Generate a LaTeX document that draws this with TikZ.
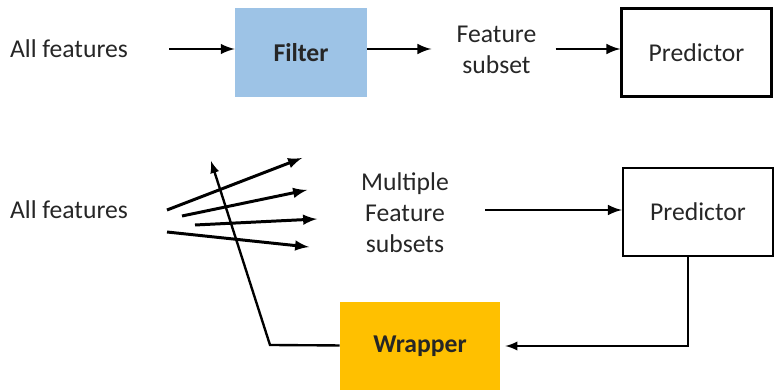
\documentclass[tikz,border=0pt]{standalone}
\usepackage{fontspec}
\setmainfont{Carlito}
\usetikzlibrary{arrows}
\pgfdeclarelayer{edgelayer}
\pgfdeclarelayer{nodelayer}
\pgfsetlayers{edgelayer,nodelayer,main}
\definecolor{filterblue}{RGB}{157,195,230}
\definecolor{wrappergold}{RGB}{255,192,0}
\newcommand{\boxfont}{\fontsize{14.6}{17.6}\selectfont}
\tikzstyle{none} = []
\tikzstyle{label text} = [inner sep=0pt, align=center, font=\boxfont, text=black!85]
\tikzstyle{filter box} = [fill=filterblue, minimum width=2.64cm, minimum height=1.78cm, font=\boxfont\bfseries, text=black!85]
\tikzstyle{wrapper box} = [fill=wrappergold, minimum width=3.2cm, minimum height=1.76cm, font=\boxfont\bfseries, text=black!85]
\tikzstyle{predictor box} = [draw, line width=1.3pt, minimum width=3.0cm, minimum height=1.76cm, font=\boxfont, text=black!85]
\tikzstyle{new edge style 1} = [-latex, line width=1.7pt]
\tikzstyle{feedback edge} = [line width=1.35pt]

\begin{document}
\begin{tikzpicture}
	\useasboundingbox (0, 0) rectangle (15.5, -7.8);
	\begin{pgfonlayer}{nodelayer}
		% filter row
		\node [style=label text] (0) at (1.38, -0.98) {All features};
		\node [style=filter box] (1) at (6.02, -1.05) {Filter};
		\node [style=label text] (2) at (9.93, -1) {Feature\\subset};
		\node [style=predictor box] (3) at (13.93, -1.05) {Predictor};
		% wrapper row
		\node [style=label text] (4) at (1.38, -4.2) {All features};
		\node [style=label text] (5) at (8.1, -4.26) {Multiple\\Feature\\subsets};
		\node [style=predictor box] (6) at (13.96, -4.24) {Predictor};
		\node [style=wrapper box] (7) at (8.4, -6.92) {Wrapper};
		\node [style=none] (8) at (5.4, -6.9) {};
		\node [style=none] (9) at (4.22, -3.22) {};
		\node [style=none] (10) at (3.34, -4.2) {};
		\node [style=none] (11) at (6.04, -3.16) {};
		\node [style=none] (12) at (3.64, -4.32) {};
		\node [style=none] (13) at (6.14, -3.8) {};
		\node [style=none] (14) at (3.9, -4.5) {};
		\node [style=none] (15) at (6.34, -4.38) {};
		\node [style=none] (16) at (3.34, -4.64) {};
		\node [style=none] (17) at (6.18, -4.94) {};
	\end{pgfonlayer}
	\begin{pgfonlayer}{edgelayer}
		\draw [style=new edge style 1, shorten <=0.82cm] (0) to (1.west |- 0.east);
		\draw [style=new edge style 1, shorten >=0.5cm] (1.east |- 0.east) to (2.west |- 0.east);
		\draw [style=new edge style 1, shorten <=0.38cm] (2.east |- 0.east) to (3.west |- 0.east);
		\draw [style=new edge style 1] (10.center) to (11.center);
		\draw [style=new edge style 1] (12.center) to (13.center);
		\draw [style=new edge style 1] (14.center) to (15.center);
		\draw [style=new edge style 1] (16.center) to (17.center);
		\draw [style=new edge style 1, shorten <=0.72cm] (5.east |- 4.east) to (6.west |- 4.east);
		\draw [style=feedback edge, -latex, shorten >=0.1cm] ([xshift=-0.2cm]6.south) |- (7);
		\draw [style=feedback edge, -latex] (7) to (8.center) to (9.center);
	\end{pgfonlayer}
\end{tikzpicture}
\end{document}
